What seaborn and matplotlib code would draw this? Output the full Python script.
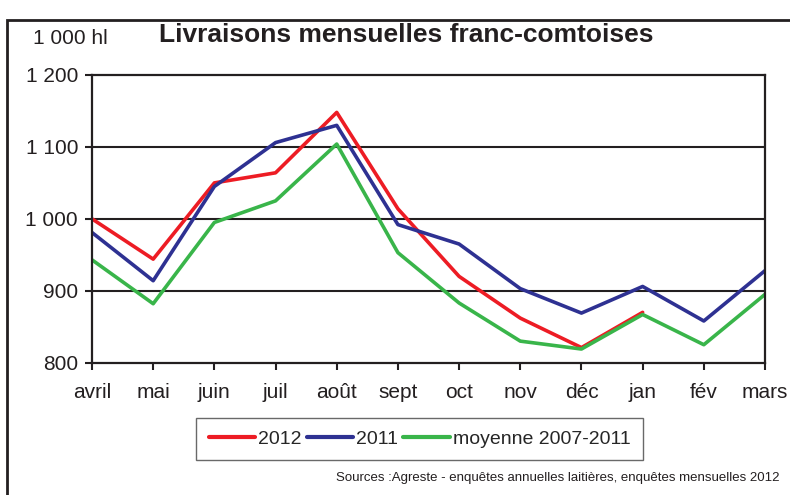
import pandas as pd
import matplotlib.pyplot as plt
import seaborn as sns
from matplotlib.patches import Rectangle

mois = ['avril', 'mai', 'juin', 'juil', 'août', 'sept', 'oct', 'nov', 'déc', 'jan', 'fév', 'mars']
livr_2012 = [1000, 944, 1050, 1064, 1148, 1014, 920, 862, 821, 870, None, None]
livr_2011 = [981, 914, 1045, 1106, 1130, 992, 965, 903, 869, 906, 858, 928]
moyenne = [943, 882, 995, 1025, 1104, 953, 883, 830, 819, 867, 825, 895]
series = ['2012', '2011', 'moyenne 2007-2011']
couleurs = ['#ED1C24', '#2E3192', '#39B54A']

df = pd.DataFrame({'pos': list(range(len(mois))) * 3,
                   'valeur': livr_2012 + livr_2011 + moyenne,
                   'serie': [s for s in series for _ in mois]})
df['valeur'] = df['valeur'].astype(float)

sns.set_style("white")
plt.rcParams['font.family'] = ['Liberation Sans', 'DejaVu Sans']

fig = plt.figure(figsize=(7.9, 4.95), dpi=100)
ax = fig.add_axes([92 / 790, 1 - 362.7 / 495, 673 / 790, 287.7 / 495])

sns.lineplot(data=df, x='pos', y='valeur', hue='serie', hue_order=series,
             palette=dict(zip(series, couleurs)), linewidth=2.6, ax=ax)

ax.set_xlim(0, len(mois) - 1)
ax.set_ylim(800, 1200)
ax.set_yticks([800, 900, 1000, 1100, 1200])
ax.set_yticklabels(['800', '900', '1 000', '1 100', '1 200'], fontsize=15)
ax.set_xticks(range(len(mois)))
ax.set_xticklabels(mois, fontsize=15)
ax.set_xlabel('')
ax.set_ylabel('')
ax.tick_params(axis='both', direction='out', length=5, width=1.5, color='#231f20',
               labelcolor='#231f20', left=True, bottom=True)
ax.tick_params(axis='y', pad=5)
ax.tick_params(axis='x', pad=9.5)
for sp in ax.spines.values():
    sp.set_color('#231f20')
    sp.set_linewidth(1.6)
for v in [900, 1000, 1100]:
    ax.axhline(v, color='#231f20', lw=1.5, zorder=0)

leg = ax.legend(loc='center', bbox_to_anchor=(419.5 / 790, 1 - 439 / 495),
                bbox_transform=fig.transFigure, ncol=3, fontsize=14, frameon=True,
                fancybox=False, handlelength=2.4, handletextpad=0.15,
                columnspacing=0.25, borderpad=0.65, borderaxespad=0)
leg.get_frame().set_edgecolor('#444444')
leg.get_frame().set_linewidth(1.0)
for line in leg.get_lines():
    line.set_linewidth(3)

fig.text(406 / 790, 1 - 35 / 495, 'Livraisons mensuelles franc-comtoises',
         fontsize=19, fontweight='bold', ha='center', va='center', color='#231f20')
fig.text(33 / 790, 1 - 38 / 495, '1 000 hl', fontsize=15, ha='left', va='center',
         color='#231f20')
fig.text(780 / 790, 1 - 478 / 495,
         'Sources :Agreste - enquêtes annuelles laitières, enquêtes mensuelles 2012',
         fontsize=9.5, ha='right', va='center', color='#231f20')

fig.patches.append(Rectangle((7 / 790, -0.1), 1.2, 1.08 - 10 / 495, transform=fig.transFigure,
                             fill=False, edgecolor='#231f20', lw=2, clip_on=False))

fig.savefig('out.png', dpi=100)
